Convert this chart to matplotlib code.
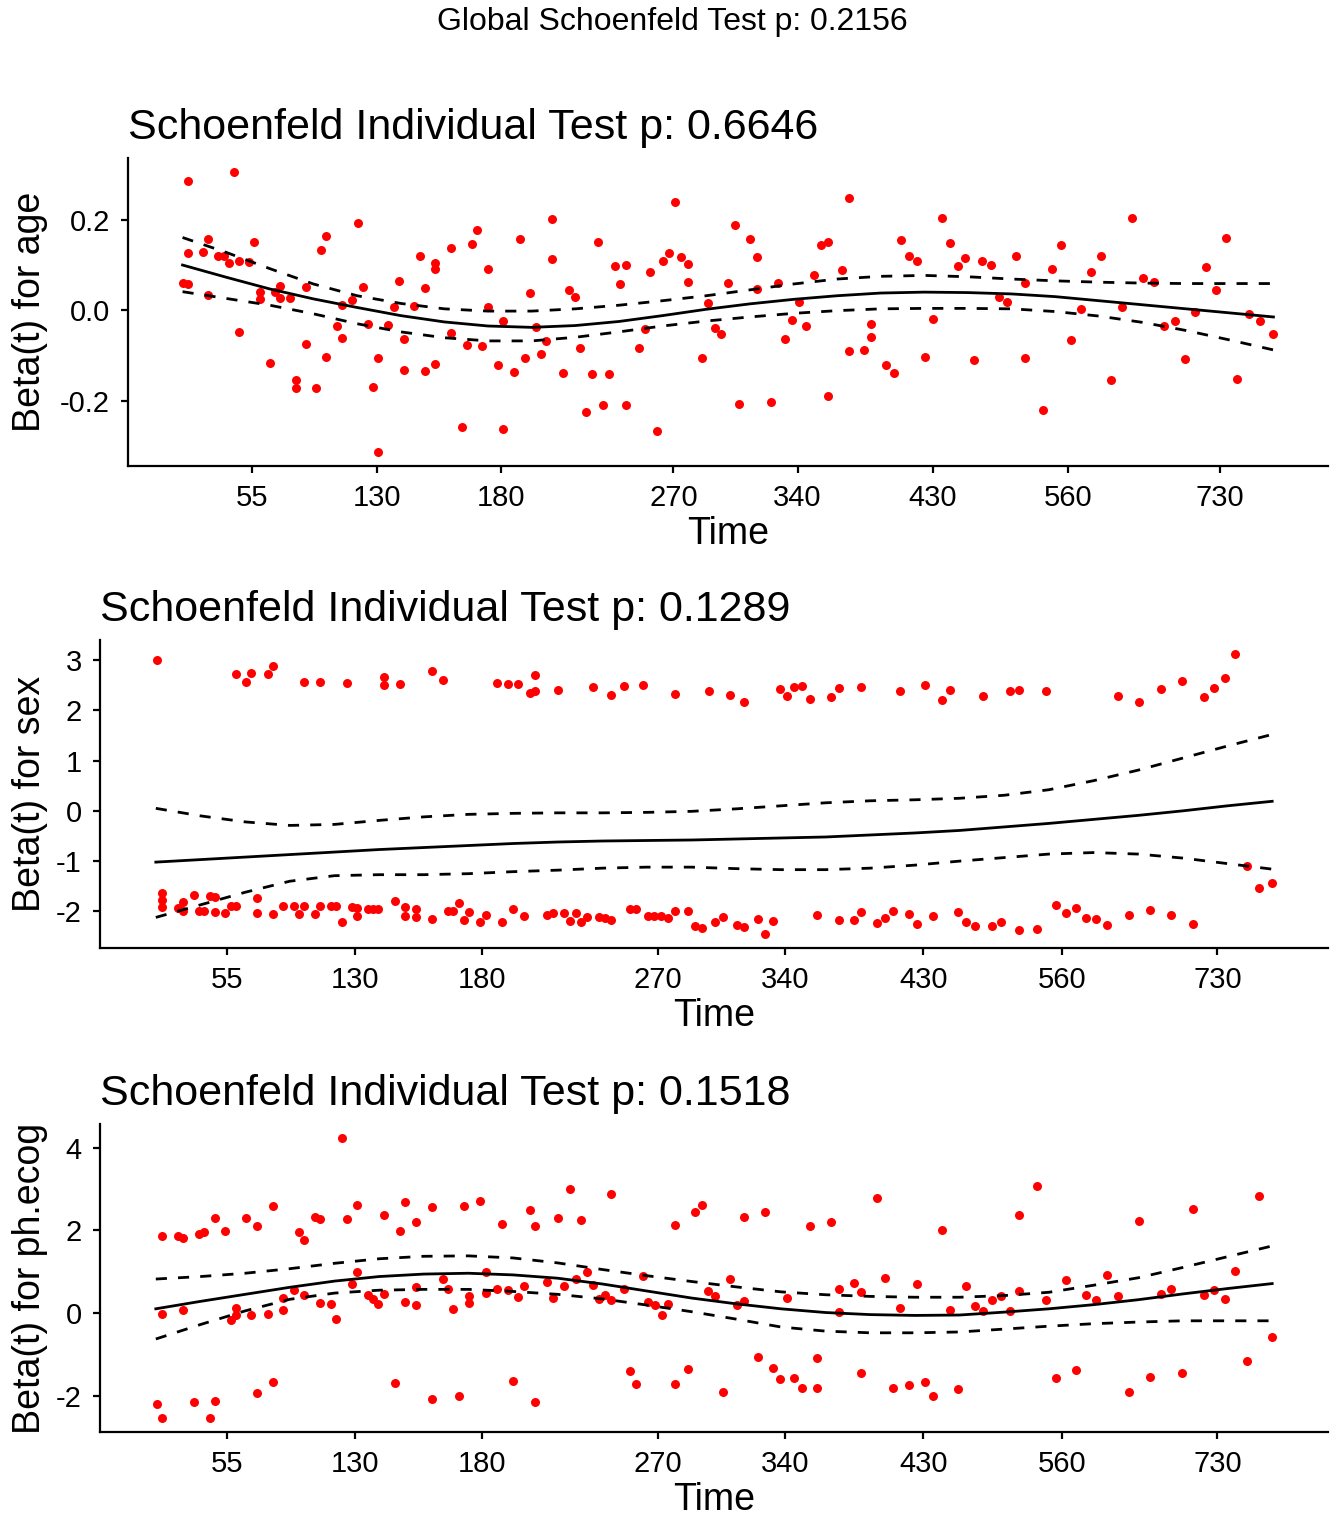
import matplotlib
matplotlib.use('Agg')
import matplotlib.pyplot as plt

plt.rcParams['font.family'] = ['Liberation Sans', 'DejaVu Sans']
plt.rcParams['axes.unicode_minus'] = False

# x is the km-transformed event time, 0..100 between first and last event
tick_pos = [6.38, 17.85, 29.23, 45.00, 56.38, 68.75, 81.20, 95.09]
tick_lab = ['55', '130', '180', '270', '340', '430', '560', '730']

global_p = '0.2156'
panel_p = ['0.6646', '0.1289', '0.1518']
covariates = ['age', 'sex', 'ph.ecog']

fit_x = [0, 4, 8, 12, 16, 20, 24, 28, 32, 36, 40, 44, 48, 52, 56, 60, 64, 68, 72, 76, 80, 84, 88,
         92, 96, 100]

# ---- age
age_x = [0.47, 4.70, 0.0, 0.47, 0.47, 1.88, 2.35, 2.35, 3.29, 3.76, 4.23, 5.18, 5.18, 6.12, 6.59,
         7.06, 7.06, 8.00, 8.47, 8.94, 8.94, 9.89, 10.36, 10.36, 11.30, 11.30, 12.24, 12.71, 13.18,
         13.18, 14.13, 14.60, 14.60, 15.57, 16.05, 16.52, 16.99, 17.46, 17.93, 17.93, 18.87, 19.34,
         19.85, 20.32, 20.32, 21.26, 21.77, 22.20, 22.24, 23.18, 23.18, 23.18, 24.63, 24.63, 25.61,
         26.08, 26.55, 27.02, 27.49, 27.97, 27.97, 28.94, 29.41, 29.41, 30.39, 30.90, 31.41, 31.88,
         32.39, 32.89, 33.36, 33.91, 33.91, 34.92, 35.43, 35.94, 36.44, 36.99, 37.49, 38.04, 38.51,
         39.05, 39.60, 40.14, 40.68, 40.68, 41.81, 42.35, 42.89, 43.47, 44.05, 44.60, 45.18, 45.72,
         46.37, 46.37, 47.60, 48.18, 48.80, 49.38, 49.99, 50.61, 50.97, 51.99, 52.64, 52.64, 53.91,
         54.56, 55.21, 55.86, 56.52, 57.17, 57.86, 58.51, 59.16, 59.16, 60.47, 61.12, 61.12, 62.46,
         63.11, 63.11, 64.49, 65.18, 65.90, 66.63, 67.35, 68.07, 68.83, 69.60, 70.32, 71.05, 71.77,
         72.53, 73.29, 74.09, 74.81, 75.61, 76.44, 77.24, 77.24, 78.87, 79.70, 80.54, 81.41, 82.35,
         83.26, 84.20, 85.14, 86.12, 87.06, 88.04, 89.02, 89.96, 90.94, 91.88, 92.83, 93.80, 94.73,
         95.67, 96.63, 97.72, 98.77, 99.96]
age_y = [0.286, 0.306, 0.060, 0.059, 0.127, 0.128, 0.158, 0.034, 0.121, 0.119, 0.104, 0.110, -0.048,
         0.107, 0.152, 0.041, 0.025, -0.116, 0.041, 0.053, 0.026, 0.026, -0.155, -0.173, 0.052,
         -0.075, -0.173, 0.134, 0.164, -0.103, -0.034, 0.011, -0.061, 0.023, 0.194, 0.052, -0.031,
         -0.171, -0.105, -0.314, -0.032, 0.008, 0.065, -0.063, -0.132, 0.009, 0.119, 0.050, -0.134,
         0.105, 0.091, -0.119, 0.137, -0.051, -0.259, -0.078, 0.147, 0.178, -0.079, 0.091, 0.007,
         -0.122, -0.024, -0.262, -0.137, 0.157, -0.106, 0.037, -0.037, -0.096, -0.069, 0.201, 0.113,
         -0.138, 0.045, 0.030, -0.083, -0.225, -0.141, 0.152, -0.211, -0.141, 0.098, 0.057, 0.099,
         -0.211, -0.084, -0.041, 0.085, -0.267, 0.110, 0.127, 0.240, 0.117, 0.102, 0.063, -0.105,
         0.017, -0.039, -0.052, 0.060, 0.189, -0.207, 0.157, 0.118, 0.046, -0.203, 0.060, -0.064,
         -0.021, 0.018, -0.036, 0.077, 0.144, 0.150, -0.189, 0.089, 0.248, -0.090, -0.088, -0.030,
         -0.060, -0.122, -0.139, 0.156, 0.119, 0.108, -0.104, -0.020, 0.205, 0.149, 0.098, 0.115,
         -0.111, 0.110, 0.100, 0.030, 0.019, 0.119, 0.061, -0.105, -0.221, 0.091, 0.144, -0.066,
         0.003, 0.085, 0.120, -0.155, 0.006, 0.204, 0.071, 0.063, -0.035, -0.023, -0.108, -0.003,
         0.096, 0.045, 0.160, -0.152, -0.008, -0.024, -0.053]
age_fit = [0.100, 0.073, 0.047, 0.025, 0.006, -0.012, -0.026, -0.035, -0.038, -0.034, -0.025,
           -0.012, 0.002, 0.014, 0.024, 0.032, 0.038, 0.040, 0.039, 0.036, 0.030, 0.021, 0.012,
           0.003, -0.006, -0.015]
age_hi = [0.161, 0.128, 0.092, 0.058, 0.032, 0.015, 0.003, -0.002, -0.002, 0.003, 0.011, 0.021,
          0.032, 0.045, 0.058, 0.069, 0.075, 0.077, 0.074, 0.069, 0.065, 0.062, 0.060, 0.059,
          0.059, 0.059]
age_lo = [0.041, 0.026, 0.011, -0.008, -0.030, -0.048, -0.061, -0.068, -0.068, -0.060, -0.048,
          -0.035, -0.024, -0.015, -0.007, -0.001, 0.003, 0.004, 0.004, 0.003, -0.003, -0.013,
          -0.027, -0.045, -0.066, -0.088]

# ---- sex
sex_x = [0.14, 7.15, 8.11, 8.57, 10.02, 10.48, 13.31, 14.73, 17.10, 20.43, 20.43, 21.89, 24.76,
         25.71, 30.53, 31.52, 32.48, 34.00, 33.54, 34.00, 36.06, 39.17, 40.80, 41.90, 43.60, 46.51,
         49.52, 51.39, 52.67, 55.93, 56.55, 57.21, 57.90, 58.56, 60.50, 61.20, 63.21, 66.68, 68.88,
         70.38, 71.11, 74.14, 76.48, 77.29, 79.74, 86.18, 88.08, 90.02, 91.92, 93.86, 94.81, 95.76,
         96.68,
         0.56, 0.56, 0.56, 1.98, 2.44, 2.44, 3.40, 3.89, 4.32, 4.81, 5.27, 5.27, 6.23, 6.69, 7.15,
         9.06, 9.06, 10.48, 11.40, 12.36, 12.82, 13.31, 14.23, 14.73, 15.69, 16.15, 16.64, 17.56,
         18.06, 18.06, 18.98, 19.44, 19.94, 21.39, 22.35, 22.35, 23.30, 23.30, 24.76, 26.17, 26.63,
         27.13, 27.59, 28.09, 29.08, 29.57, 31.03, 31.98, 32.97, 35.03, 35.56, 36.59, 37.08, 37.61,
         38.11, 38.64, 39.71, 40.23, 40.80, 42.47, 43.00, 44.06, 44.59, 45.23, 45.90, 46.51, 47.71,
         48.31, 48.91, 50.12, 50.77, 52.05, 52.67, 53.95, 54.61, 55.27, 59.22, 61.20, 62.51, 63.21,
         64.56, 65.29, 65.99, 67.45, 68.18, 69.65, 71.88, 72.61, 73.38, 74.91, 75.68, 77.29, 78.94,
         80.62, 81.50, 82.41, 83.32, 84.24, 85.19, 87.13, 89.07, 90.97, 92.91, 97.77, 98.83, 100.0]
sex_y = [3.00, 2.72, 2.56, 2.74, 2.73, 2.88, 2.57, 2.57, 2.54, 2.66, 2.50, 2.53, 2.79, 2.61, 2.54,
         2.52, 2.52, 2.70, 2.35, 2.39, 2.41, 2.47, 2.30, 2.49, 2.50, 2.33, 2.38, 2.31, 2.17, 2.42,
         2.29, 2.47, 2.49, 2.22, 2.26, 2.45, 2.46, 2.38, 2.50, 2.20, 2.40, 2.28, 2.38, 2.41, 2.38,
         2.28, 2.16, 2.43, 2.59, 2.26, 2.44, 2.65, 3.12,
         -1.63, -1.78, -1.92, -1.94, -1.82, -1.99, -1.68, -1.99, -2.00, -1.69, -1.71, -2.02, -2.03,
         -1.90, -1.90, -1.73, -2.03, -2.06, -1.90, -1.90, -2.05, -1.90, -2.06, -1.90, -1.89, -1.89,
         -2.21, -1.91, -1.94, -2.09, -1.96, -1.96, -1.96, -1.79, -1.92, -2.09, -1.96, -2.12, -2.16,
         -1.99, -1.99, -1.84, -2.17, -2.01, -2.21, -2.07, -2.21, -1.96, -2.10, -2.08, -2.04, -2.04,
         -2.19, -2.04, -2.22, -2.12, -2.12, -2.14, -2.17, -1.96, -1.96, -2.09, -2.09, -2.09, -2.14,
         -1.99, -1.99, -2.29, -2.34, -2.21, -2.11, -2.27, -2.31, -2.15, -2.45, -2.20, -2.08, -2.17,
         -2.18, -2.02, -2.23, -2.14, -2.00, -2.06, -2.26, -2.10, -2.02, -2.21, -2.29, -2.30, -2.21,
         -2.37, -2.36, -1.88, -2.03, -1.94, -2.13, -2.16, -2.27, -2.08, -1.98, -2.07, -2.26, -1.10,
         -1.54, -1.43]
sex_fit = [-1.02, -0.97, -0.92, -0.87, -0.82, -0.77, -0.73, -0.69, -0.65, -0.62, -0.60, -0.59,
           -0.58, -0.56, -0.54, -0.52, -0.48, -0.44, -0.39, -0.32, -0.25, -0.17, -0.09, 0.00, 0.10,
           0.19]
sex_hi = [0.05, -0.10, -0.22, -0.29, -0.27, -0.19, -0.12, -0.07, -0.05, -0.04, -0.04, -0.03, -0.01,
          0.04, 0.10, 0.16, 0.20, 0.22, 0.25, 0.31, 0.42, 0.60, 0.81, 1.05, 1.29, 1.52]
sex_lo = [-2.12, -1.87, -1.62, -1.40, -1.29, -1.27, -1.27, -1.25, -1.21, -1.18, -1.14, -1.12,
          -1.12, -1.15, -1.17, -1.17, -1.14, -1.08, -1.00, -0.93, -0.86, -0.83, -0.86, -0.94, -1.05,
          -1.16]

# ---- ph.ecog
ecog_x = [0.14, 0.56, 0.56, 0.56, 1.98, 2.44, 2.44, 3.40, 3.89, 4.32, 4.81, 5.27, 5.27, 6.23, 6.69,
          7.15, 7.15, 8.11, 8.57, 9.06, 9.06, 10.02, 10.48, 10.48, 11.40, 11.40, 12.36, 12.82,
          13.31, 13.31, 14.23, 14.73, 14.73, 15.69, 16.15, 16.64, 17.10, 17.56, 18.06, 18.06, 18.98,
          19.44, 19.94, 20.43, 20.43, 21.39, 21.89, 22.35, 22.35, 23.30, 23.30, 23.30, 24.76, 24.76,
          25.71, 26.17, 26.63, 27.13, 27.59, 28.09, 28.09, 29.08, 29.57, 29.57, 30.53, 31.03, 31.52,
          31.98, 32.48, 32.97, 33.54, 34.00, 34.00, 35.03, 35.56, 36.06, 36.59, 37.08, 37.61, 38.11,
          38.64, 39.17, 39.71, 40.23, 40.80, 40.80, 41.90, 42.47, 43.00, 43.60, 44.10, 44.73, 45.30,
          45.90, 46.51, 46.51, 47.71, 48.31, 48.91, 49.48, 50.12, 50.77, 51.39, 52.02, 52.67, 52.67,
          53.95, 54.61, 55.27, 55.93, 56.55, 57.21, 57.90, 58.56, 59.22, 59.22, 60.50, 61.20, 61.20,
          62.51, 63.21, 63.21, 64.56, 65.29, 65.99, 66.68, 67.45, 68.18, 68.88, 69.65, 70.38, 71.11,
          71.88, 72.61, 73.38, 74.14, 74.91, 75.68, 76.48, 77.29, 77.29, 78.94, 79.74, 80.62, 81.50,
          82.41, 83.32, 84.24, 85.19, 86.18, 87.13, 88.08, 89.07, 90.02, 90.97, 91.92, 92.91, 93.86,
          94.81, 95.76, 96.71, 97.77, 98.83, 100.0]
ecog_y = [-2.21, -2.54, 1.87, -0.02, 1.87, 1.82, 0.06, -2.16, 1.91, 1.96, -2.53, 2.29, -2.12, 1.97,
          -0.16, 0.12, -0.06, 2.30, -0.06, 2.10, -1.93, -0.02, 2.59, -1.68, 0.35, 0.07, 0.55, 1.96,
          1.76, 0.44, 2.33, 2.27, 0.23, 0.21, -0.15, 4.23, 2.27, 0.69, 2.60, 0.99, 0.43, 0.34, 0.21,
          2.37, 0.47, -1.70, 1.99, 2.69, 0.27, 2.20, 0.63, 0.20, 2.55, -2.07, 0.81, 0.58, 0.10, -2.01,
          2.59, 0.41, 0.23, 2.71, 0.99, 0.48, 0.58, 2.15, 0.55, -1.65, 0.38, 0.64, 2.48, 2.10, -2.15,
          0.76, 0.36, 2.29, 0.66, 3.00, 0.82, 2.25, 0.99, 0.68, 0.34, 0.44, 2.88, 0.31, 0.57, -1.41,
          -1.73, 0.90, 0.26, 0.20, -0.05, 0.21, 2.12, -1.73, -1.36, 2.43, 2.60, 0.52, 0.42, -1.90,
          0.81, 0.19, 2.32, 0.29, -1.07, 2.44, -1.33, -1.59, 0.35, -1.57, -1.82, 2.10, -1.10, -1.82,
          2.21, 0.58, 0.02, 0.72, 0.51, -1.45, 2.78, 0.84, -1.82, 0.12, -1.75, 0.71, -1.66, -2.01,
          2.00, 0.08, -1.84, 0.64, 0.17, 0.04, 0.32, 0.40, 0.04, 2.37, 0.54, 3.06, 0.31, -1.58, 0.80,
          -1.37, 0.43, 0.31, 0.91, 0.42, -1.90, 2.23, -1.55, 0.46, 0.57, -1.44, 2.51, 0.44, 0.56,
          0.33, 1.01, -1.16, 2.82, -0.57]
ecog_fit = [0.10, 0.28, 0.45, 0.62, 0.77, 0.88, 0.94, 0.96, 0.92, 0.84, 0.70, 0.53, 0.36, 0.22,
            0.10, 0.01, -0.04, -0.06, -0.05, 0.02, 0.10, 0.20, 0.32, 0.46, 0.59, 0.71]
ecog_hi = [0.82, 0.88, 0.96, 1.07, 1.20, 1.31, 1.37, 1.38, 1.33, 1.21, 1.05, 0.90, 0.76, 0.63, 0.51,
           0.44, 0.40, 0.38, 0.38, 0.42, 0.50, 0.67, 0.85, 1.10, 1.36, 1.62]
ecog_lo = [-0.63, -0.28, 0.05, 0.33, 0.48, 0.55, 0.57, 0.57, 0.52, 0.45, 0.34, 0.19, 0.03, -0.15,
           -0.34, -0.44, -0.48, -0.48, -0.46, -0.39, -0.32, -0.26, -0.22, -0.19, -0.19, -0.19]

panels = [
    (age_x, age_y, age_fit, age_hi, age_lo, [-0.2, 0.0, 0.2], '%.1f'),
    (sex_x, sex_y, sex_fit, sex_hi, sex_lo, [-2, -1, 0, 1, 2, 3], '%d'),
    (ecog_x, ecog_y, ecog_fit, ecog_hi, ecog_lo, [-2, 0, 2, 4], '%d'),
]

W, H = 1344, 1536
# axes boxes in pixels: left, top, right, bottom
boxes = [(128, 158, 1328, 466), (100, 640, 1328, 948), (100, 1124, 1328, 1432)]

fig = plt.figure(figsize=(W / 100, H / 100), dpi=100)
fig.text(0.5, 1 - 22 / H, 'Global Schoenfeld Test p: ' + global_p, ha='center', va='center',
         fontsize=23)

for i, (px, py, fy, hy, ly, yt, fmt) in enumerate(panels):
    l, t, r, b = boxes[i]
    ax = fig.add_axes([l / W, 1 - b / H, (r - l) / W, (b - t) / H])
    ax.scatter(px, py, s=42, color='red', linewidths=0, zorder=2)
    ax.plot(fit_x, fy, color='black', lw=2.0, zorder=3)
    ax.plot(fit_x, hy, color='black', lw=2.0, dashes=(4, 4), zorder=3)
    ax.plot(fit_x, ly, color='black', lw=2.0, dashes=(4, 4), zorder=3)
    ax.set_xlim(-5, 105)
    ax.margins(y=0.05)
    ax.set_xticks(tick_pos)
    ax.set_xticklabels(tick_lab)
    ax.set_yticks(yt)
    ax.set_yticklabels([fmt % v for v in yt])
    for s in ['top', 'right']:
        ax.spines[s].set_visible(False)
    for s in ['left', 'bottom']:
        ax.spines[s].set_linewidth(1.6)
    ax.tick_params(direction='out', length=5, width=1.6, labelsize=21, pad=8, colors='black')
    ax.set_title('Schoenfeld Individual Test p: ' + panel_p[i], loc='left', fontsize=31, pad=14)
    ax.set_xlabel('Time', fontsize=27)
    ax.set_ylabel('Beta(t) for ' + covariates[i], fontsize=27)
    ax.xaxis.label.set_va('center')
    ax.yaxis.label.set_va('center')
    ax.xaxis.set_label_coords(0.5, -0.221)
    ax.yaxis.set_label_coords((30 - l) / (r - l), 0.5)

fig.savefig('out.png', dpi=100)
